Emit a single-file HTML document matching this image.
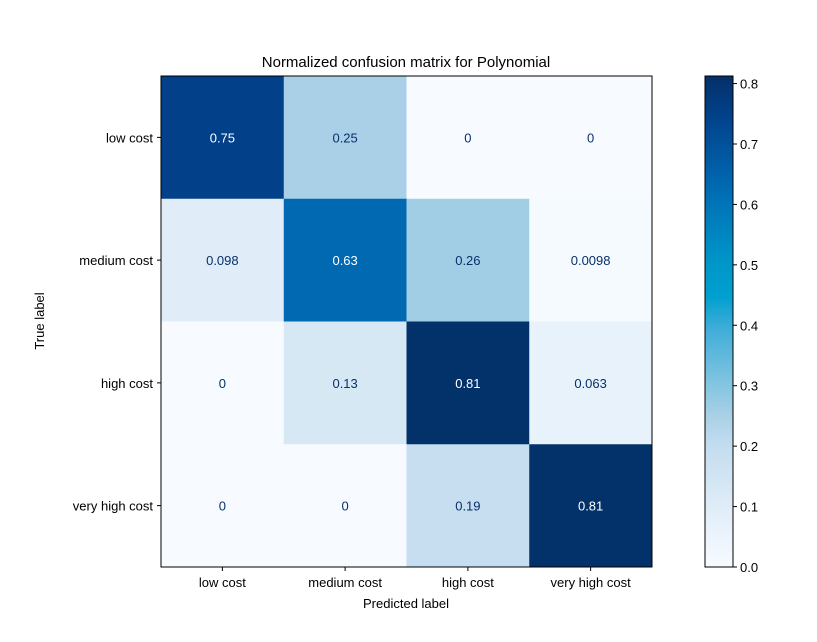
<!DOCTYPE html>
<html><head><meta charset="utf-8"><style>body{margin:0;background:#fff}svg text{font-family:"Liberation Sans","DejaVu Sans",sans-serif;fill:#000}</style></head>
<body>
<svg id="chart" width="817" height="637" xmlns="http://www.w3.org/2000/svg">
<defs><linearGradient id="cbg" x1="0" y1="1" x2="0" y2="0"></linearGradient></defs>
<text x="406" y="67" font-size="15" text-anchor="middle">Normalized confusion matrix for Polynomial</text>
<g id="cells"></g><g id="ticks"></g>
<text x="406" y="608" font-size="13" text-anchor="middle">Predicted label</text>
<text transform="translate(44,321) rotate(-90)" font-size="13" text-anchor="middle">True label</text>
<g id="cbar"></g>
</svg>
<script>
const labels=["low cost","medium cost","high cost","very high cost"];
const row0=[0.75,0.25,0,0];
const row1=[0.098,0.63,0.26,0.0098];
const row2=[0,0.13,0.81,0.063];
const row3=[0,0,0.19,0.81];
const texts0=["0.75","0.25","0","0"];
const texts1=["0.098","0.63","0.26","0.0098"];
const texts2=["0","0.13","0.81","0.063"];
const texts3=["0","0","0.19","0.81"];
const cbTicks=[0,0.1,0.2,0.3,0.4,0.5,0.6,0.7,0.8];
const rows=[row0,row1,row2,row3],texts=[texts0,texts1,texts2,texts3];
const vmax=0.8125;
const L=161,T=76,S=491,cs=S/4;
const stops=[[0,[247,251,255]],[0.12,[224,237,248]],[0.25,[194,220,239]],[0.31,[168,208,230]],[0.37,[133,197,224]],[0.49,[60,172,216]],[0.55,[0,160,208]],[0.62,[0,150,200]],[0.74,[0,116,184]],[0.78,[0,104,176]],[0.92,[2,65,138]],[1,[3,48,104]]];
function cmap(v){let t=Math.max(0,Math.min(1,v/vmax));for(let i=1;i<stops.length;i++){if(t<=stops[i][0]){const a=stops[i-1],b=stops[i],f=(t-a[0])/(b[0]-a[0]);return 'rgb('+a[1].map((c,k)=>Math.round(c+(b[1][k]-c)*f)).join(',')+')';}}return 'rgb(3,48,104)';}
const NS="http://www.w3.org/2000/svg";
function mk(tag,at,parent,txt){const e=document.createElementNS(NS,tag);for(const k in at)e.setAttribute(k,at[k]);if(txt!==undefined)e.textContent=txt;parent.appendChild(e);return e;}
const xs=i=>L+cs*i,ys=i=>T+cs*i;
const cells=document.getElementById('cells');
rows.forEach((r,i)=>r.forEach((v,j)=>{
 const c=mk('rect',{x:xs(j),y:ys(i),width:cs+0.5,height:cs+0.5,fill:cmap(v)},cells);
 
 
 const t=mk('text',{x:xs(j)+cs/2,y:ys(i)+cs/2+5,'font-size':13,'text-anchor':'middle',style:'fill:'+(v>vmax/2?'#fff':'#08306b')},cells,texts[i][j]);
 
 
}));
const fr=mk('rect',{x:L,y:T,width:S,height:S,fill:'none',stroke:'#000','stroke-width':1},cells);


const tk=document.getElementById('ticks');
labels.forEach((l,i)=>{
 mk('line',{x1:xs(i)+cs/2,x2:xs(i)+cs/2,y1:T+S,y2:T+S+4,stroke:'#000'},tk);
 const a=mk('text',{x:xs(i)+cs/2,y:T+S+20,'font-size':13,'text-anchor':'middle'},tk,l);
 
 
 mk('line',{x1:L-4,x2:L,y1:ys(i)+cs/2,y2:ys(i)+cs/2,stroke:'#000'},tk);
 const b=mk('text',{x:L-8,y:ys(i)+cs/2+5,'font-size':13,'text-anchor':'end'},tk,l);
 
 
});
const g=document.getElementById('cbg');
stops.forEach(s=>mk('stop',{offset:s[0],'stop-color':'rgb('+s[1].join(',')+')'},g));
const cb=document.getElementById('cbar');const CX=705,CW=28;
const cr=mk('rect',{x:CX,y:T,width:CW,height:S,fill:'url(#cbg)',stroke:'#000'},cb);


cbTicks.forEach(v=>{const y=T+S-v/vmax*S;
 mk('line',{x1:CX+CW,x2:CX+CW+4,y1:y,y2:y,stroke:'#000'},cb);
 const t=mk('text',{x:CX+CW+7,y:y+5,'font-size':13},cb,v.toFixed(1));
 
 
});
</script>
</body></html>
